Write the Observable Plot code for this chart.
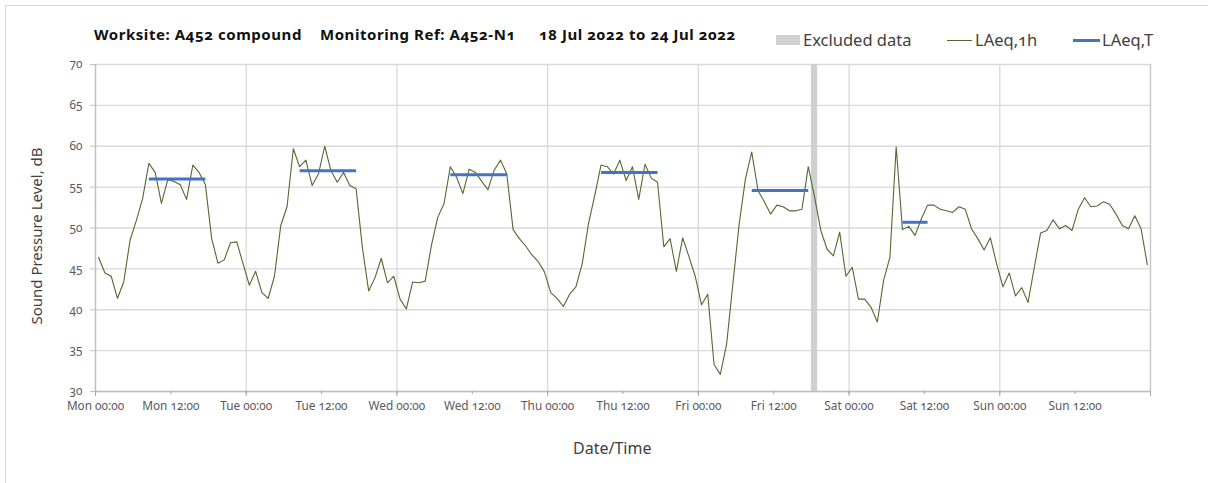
<!DOCTYPE html>
<html>
<head>
<meta charset="utf-8">
<script src="https://cdn.jsdelivr.net/npm/d3@7"></script>
<script src="https://cdn.jsdelivr.net/npm/@observablehq/plot@0.6"></script>
<style>
  html, body { margin: 0; padding: 0; background: #fff; }
  body { width: 1208px; height: 483px; overflow: hidden; font-family: "Noto Sans", sans-serif; font-variant-numeric: oldstyle-nums; }
  #wrap { position: relative; width: 1208px; height: 483px; }
  #frame { position: absolute; left: 5px; top: 5px; width: 1220px; height: 500px; border: 1px solid #d9d9d9; box-sizing: border-box; }
  .t { position: absolute; white-space: nowrap; }
  .title { font-weight: bold; font-size: 15px; letter-spacing: 0.55px; color: #111; top: 24px; }
  .leg { font-size: 16.5px; color: #404040; top: 28px; }
  #chart { position: absolute; left: 0; top: 0; }
  svg text { font-variant-numeric: oldstyle-nums; }
</style>
</head>
<body>
<div id="wrap">
  <div id="frame"></div>
  <div id="chart"></div>
</div>
<script>
// ---- data (hourly LAeq,1h, Mon 18 Jul 2022 00:00 -> Sun 24 Jul 2022 23:00) ----
const titleParts = ["Worksite: A452 compound", "Monitoring Ref: A452-N1", "18 Jul 2022 to 24 Jul 2022"];
const seriesNames = ["Excluded data", "LAeq,1h", "LAeq,T"];
const yLabel = "Sound Pressure Level, dB";
const xLabel = "Date/Time";
const startDate = "2022-07-18T00:00:00Z";

const laeq1h = [
  // Mon
  46.4, 44.5, 44.1, 41.4, 43.4, 48.5, 50.9, 53.6, 57.9, 56.8, 53.0, 55.9, 55.7, 55.3, 53.5, 57.7, 56.8, 55.3, 48.7, 45.7, 46.1, 48.2, 48.3, 45.6,
  // Tue
  43.0, 44.7, 42.1, 41.4, 44.1, 50.3, 52.6, 59.7, 57.5, 58.3, 55.2, 56.6, 60.0, 57.0, 55.6, 56.8, 55.2, 54.8, 47.6, 42.3, 43.9, 46.3, 43.3, 44.1,
  // Wed
  41.3, 40.1, 43.4, 43.3, 43.5, 47.9, 51.3, 53.0, 57.5, 56.2, 54.2, 57.2, 56.8, 55.7, 54.7, 57.1, 58.3, 56.6, 49.8, 48.7, 47.8, 46.7, 45.9, 44.6,
  // Thu
  42.1, 41.4, 40.4, 41.9, 42.8, 45.6, 50.5, 54.0, 57.7, 57.5, 56.6, 58.3, 55.8, 57.5, 53.5, 57.8, 56.1, 55.6, 47.7, 48.7, 44.7, 48.8, 46.5, 44.1,
  // Fri
  40.6, 41.9, 33.3, 32.1, 35.8, 43.2, 50.5, 56.0, 59.3, 54.6, 53.2, 51.7, 52.8, 52.6, 52.1, 52.1, 52.3, 57.5, 53.8, 49.7, 47.4, 46.6, 49.5, 44.1,
  // Sat
  45.2, 41.3, 41.3, 40.3, 38.5, 43.6, 46.4, 59.9, 49.8, 50.2, 49.1, 51.1, 52.8, 52.8, 52.3, 52.1, 51.9, 52.6, 52.3, 49.9, 48.7, 47.3, 48.8, 45.6,
  // Sun
  42.8, 44.5, 41.7, 42.7, 40.9, 45.2, 49.4, 49.7, 51.0, 49.9, 50.3, 49.7, 52.3, 53.7, 52.6, 52.7, 53.2, 52.9, 51.7, 50.3, 49.9, 51.5, 49.9, 45.5
];

// LAeq,T daytime periods (hours from start) and levels
const laeqTStart = [8.5, 32.5, 56.5, 80.5, 104.5, 128.5];
const laeqTEnd   = [17.5, 41.5, 65.5, 89.5, 113.5, 132.5];
const laeqTValue = [56.0, 57.0, 56.5, 56.8, 54.6, 50.7];

// Excluded data period (hours from start)
const excludedStart = [114];
const excludedEnd = [115];

const yTicks = [30, 35, 40, 45, 50, 55, 60, 65, 70];
const dayNames = ["Mon", "Tue", "Wed", "Thu", "Fri", "Sat", "Sun"];

// ---- build ----
const t0 = new Date(startDate).getTime();
const H = 3600e3;
const at = h => new Date(t0 + h * H);

const lineData = laeq1h.map((v, i) => ({t: at(i + 0.5), v}));
const segData = laeqTValue.map((v, i) => ({x1: at(laeqTStart[i]), x2: at(laeqTEnd[i]), v}));
const exData = excludedStart.map((s, i) => ({x1: at(s), x2: at(excludedEnd[i])}));
const halfDayTicks = d3.range(0, 14).map(k => at(k * 12));
const dayTicks = d3.range(0, 8).map(k => at(k * 24));
const fmt = d => dayNames[(d3.utcDay.count(new Date(t0), d)) % 7] + " " + d3.utcFormat("%H:%M")(d);

const W = 1208, HGT = 483;
const chart = Plot.plot({
  width: W,
  height: HGT,
  marginLeft: 95,
  marginRight: 58,
  marginTop: 64,
  marginBottom: 92,
  style: {fontFamily: "Noto Sans", fontSize: "11.8px", color: "#595959", background: "transparent"},
  x: {type: "utc", domain: [at(0), at(168)]},
  y: {domain: [30, 70]},
  marks: [
    Plot.gridY(yTicks, {stroke: "#d9d9d9", strokeOpacity: 1, strokeWidth: 1.3}),
    Plot.gridX(dayTicks, {stroke: "#d9d9d9", strokeOpacity: 1, strokeWidth: 1.3}),
    Plot.rect(exData, {x1: "x1", x2: "x2", y1: 30, y2: 70, fill: "#d0d0d0"}),
    Plot.ruleX([at(168)], {stroke: "#c8c8c8", strokeWidth: 1.3, y1: 30, y2: 70}),
    Plot.ruleY([30], {stroke: "#bfbfbf", strokeWidth: 1.3}),
    Plot.ruleX([at(0)], {stroke: "#bfbfbf", strokeWidth: 1.3}),
    Plot.axisY({ticks: yTicks, tickSize: 5, tickPadding: 8, stroke: "#bfbfbf", label: null, fill: "#595959"}),
    Plot.axisX({ticks: halfDayTicks, tickFormat: fmt, tickSize: 3, tickPadding: 7, stroke: "#a6a6a6", label: null, fill: "#595959"}),
    Plot.axisX({ticks: dayTicks, tickFormat: () => "", tickSize: 5, stroke: "#a6a6a6", label: null}),
    Plot.lineY(lineData, {x: "t", y: "v", stroke: "#4f6b2d", strokeWidth: 1.1}),
    Plot.link(segData, {x1: "x1", x2: "x2", y1: "v", y2: "v", stroke: "#4472c4", strokeWidth: 3})
  ]
});
document.getElementById("chart").appendChild(chart);

// ---- title, legend and axis labels as HTML text ----
const wrap = document.getElementById("wrap");
function addText(txt, cls, css) {
  const d = document.createElement("div");
  d.className = "t " + cls;
  d.textContent = txt;
  Object.assign(d.style, css);
  wrap.appendChild(d);
  return d;
}
addText(titleParts[0], "title", {left: "94px"});
addText(titleParts[1], "title", {left: "320px"});
addText(titleParts[2], "title", {left: "539px"});

// legend
const sw = document.createElement("div");
Object.assign(sw.style, {position: "absolute", left: "776px", top: "35px", width: "24px", height: "10px", background: "#d0d0d0"});
wrap.appendChild(sw);
addText(seriesNames[0], "leg", {left: "803px"});
const g1 = document.createElement("div");
Object.assign(g1.style, {position: "absolute", left: "947px", top: "40px", width: "25px", height: "1.2px", background: "#4f6b2d"});
wrap.appendChild(g1);
addText(seriesNames[1], "leg", {left: "975px"});
const b1 = document.createElement("div");
Object.assign(b1.style, {position: "absolute", left: "1073px", top: "39px", width: "27px", height: "3px", background: "#4472c4"});
wrap.appendChild(b1);
addText(seriesNames[2], "leg", {left: "1102px"});

// axis titles
addText(xLabel, "", {left: "573px", top: "437px", fontSize: "16px", color: "#404040"});
const yl = addText(yLabel, "", {fontSize: "15px", color: "#404040"});
const w = yl.getBoundingClientRect().width;
Object.assign(yl.style, {left: (36 - w / 2) + "px", top: "226px", transform: "rotate(-90deg)", transformOrigin: "center center"});
</script>
</body>
</html>
